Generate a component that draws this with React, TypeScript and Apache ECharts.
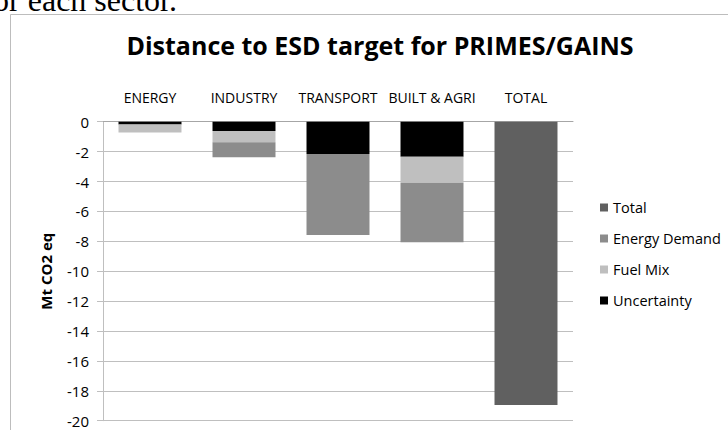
import React, { useEffect, useRef } from "react";
import * as echarts from "echarts";

const categories = ["ENERGY", "INDUSTRY", "TRANSPORT", "BUILT & AGRI", "TOTAL"];
const uncertainty = [-0.18, -0.62, -2.16, -2.34, null];
const fuelMix = [-0.55, -0.76, null, -1.74, null];
const energyDemand = [null, -1.0, -5.42, -3.99, null];
const total = [null, null, null, null, -18.95];
const legendOrder = ["Total", "Energy Demand", "Fuel Mix", "Uncertainty"];

const FONT = "Open Sans";

export default function App() {
  const ref = useRef<HTMLDivElement>(null);
  useEffect(() => {
    if (!ref.current) return;
    const chart = echarts.init(ref.current, undefined, { renderer: "svg" });
    const mk = (name: string, data: (number | null)[], color: string) => ({
      name,
      type: "bar",
      stack: "s",
      data,
      barCategoryGap: "33%",
      itemStyle: { color },
    });
    chart.setOption({
      animation: false,
      backgroundColor: "#fff",
      title: {
        text: "Distance to ESD target for PRIMES/GAINS",
        left: 375,
        top: 27,
        textAlign: "center",
        textStyle: { fontFamily: FONT, fontWeight: "bold", fontSize: 25, color: "#000" },
      },
      graphic: [
        {
          type: "rect",
          shape: { x: 10.5, y: 14.5, width: 730, height: 430 },
          style: { fill: "none", stroke: "#bdbdbd", lineWidth: 1 },
          silent: true,
        },
        {
          type: "text",
          x: 177,
          y: 16,
          style: {
            text: "for each sector.",
            font: "32px 'Liberation Serif'",
            fill: "#000",
            textAlign: "right",
            textVerticalAlign: "bottom",
          },
          silent: true,
        },
      ],
      legend: {
        orient: "vertical",
        left: 595,
        top: 195,
        itemWidth: 8,
        itemHeight: 8,
        itemGap: 16,
        icon: "rect",
        data: legendOrder,
        textStyle: { fontFamily: FONT, fontSize: 14.5, color: "#000" },
      },
      grid: { left: 103, right: 155, top: 121.7, bottom: 9.3, containLabel: false },
      xAxis: {
        type: "category",
        position: "top",
        data: categories,
        axisLine: { lineStyle: { color: "#a6a6a6" } },
        axisTick: { inside: true, length: 4, lineStyle: { color: "#a6a6a6" } },
        axisLabel: { fontFamily: FONT, fontSize: 14, color: "#000", margin: 17, interval: 0 },
      },
      yAxis: {
        type: "value",
        min: -20,
        max: 0,
        interval: 2,
        name: "Mt CO2 eq",
        nameLocation: "middle",
        nameGap: 50,
        nameTextStyle: { fontFamily: FONT, fontWeight: "bold", fontSize: 15, color: "#000" },
        axisLine: { show: true, lineStyle: { color: "#bfbfbf" } },
        axisTick: { show: true, length: 6, lineStyle: { color: "#bfbfbf" } },
        splitLine: { lineStyle: { color: "#bfbfbf" } },
        axisLabel: { fontFamily: FONT, fontSize: 15, color: "#000", margin: 14 },
      },
      series: [
        mk("Uncertainty", uncertainty, "#000000"),
        mk("Fuel Mix", fuelMix, "#bfbfbf"),
        mk("Energy Demand", energyDemand, "#8c8c8c"),
        mk("Total", total, "#606060"),
      ],
    });
    return () => chart.dispose();
  }, []);
  return (
    <div
      ref={ref}
      style={{ position: "fixed", left: 0, top: 0, width: 728, height: 430 }}
    />
  );
}
